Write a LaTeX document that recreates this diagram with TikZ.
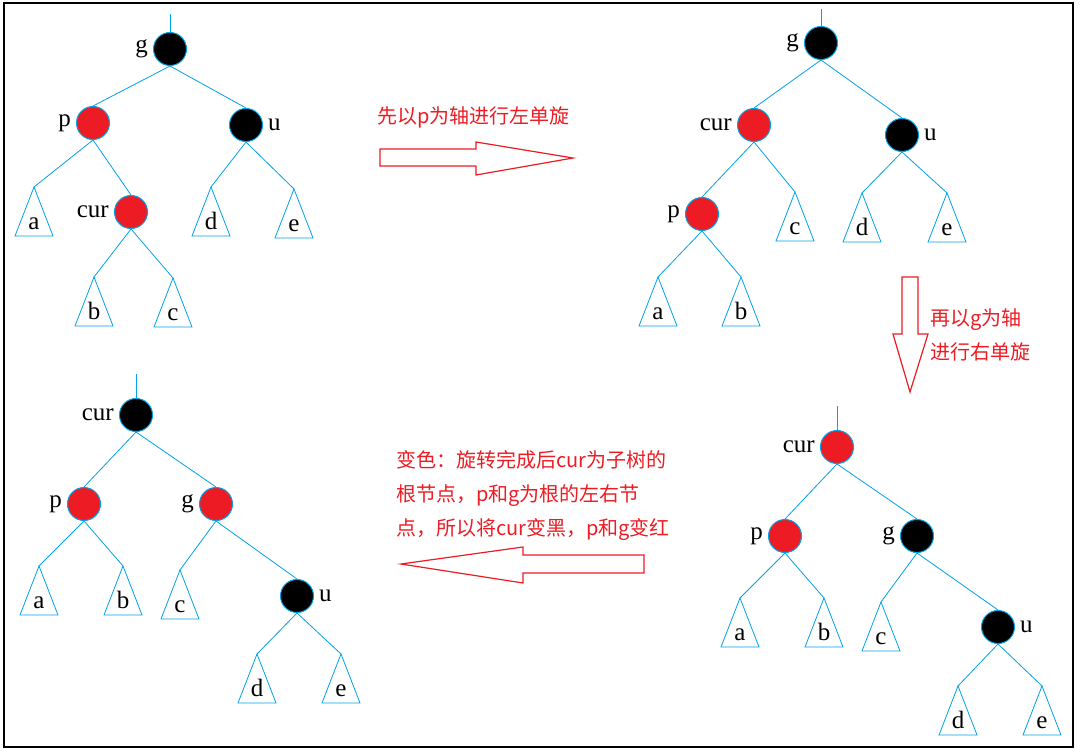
\documentclass[tikz,border=0pt]{standalone}
\usepackage{fontspec}
\usepackage{tikz}
\usetikzlibrary{calc}
\newfontfamily\cjk{Noto Sans CJK SC}
\newfontfamily\labfont{Liberation Serif}
\definecolor{cRed}{RGB}{237,28,36}
\definecolor{cBlue}{RGB}{0,162,232}
\tikzset{
	rbnode/.style ={circle, draw=cBlue, line width=1pt, minimum size=33pt, inner sep=0pt},
	rednode/.style={rbnode, fill=cRed},
	blknode/.style={rbnode, fill=black},
	edge/.style   ={cBlue, line width=0.8pt},
	nlab/.style   ={font=\labfont\fontsize{25}{28}\selectfont, inner sep=2pt},
	note/.style   ={text=cRed, font=\cjk\fontsize{20}{34}\selectfont, align=left, anchor=west, inner sep=0pt},
	bigarrow/.style={draw=cRed, line width=1.2pt, fill=white, line join=miter},
	every label/.style={nlab},
	label distance=3pt,
}
% subtree triangle: apex coordinate, outline, letter
\newcommand{\subtree}[3]{%
	\coordinate (#1) at (#2);
	\draw[edge] (#1) -- ++(-19,49) -- ++(38,0) -- cycle;
	\node[nlab, anchor=base] (#1txt) at ($(#1)+(0,42)$) {#3};
}

\begin{document}
\begin{tikzpicture}[x=1pt, y=-1pt]
	\fill[white] (0,0) rectangle (1080,752);
	\useasboundingbox (0,0) rectangle (1080,752);
	\draw[line width=1.2pt] (4,3) rectangle (1073,747);

	% tree A: before the rotations
	\node[blknode, label={left:g}]   (gA)   at (170,49)  {};
	\node[rednode, label={left:p}]   (pA)   at (93,123)  {};
	\node[blknode, label={right:u}]  (uA)   at (246,125) {};
	\node[rednode, label={left:cur}] (curA) at (131,212) {};
	% tree B: after the left rotation at p
	\node[blknode, label={left:g}]   (gB)   at (821,43)  {};
	\node[rednode, label={left:cur}] (curB) at (754,125) {};
	\node[blknode, label={right:u}]  (uB)   at (902,135) {};
	\node[rednode, label={left:p}]   (pB)   at (702,214) {};
	% tree C: after the right rotation at g
	\node[rednode, label={left:cur}] (curC) at (837,447) {};
	\node[rednode, label={left:p}]   (pC)   at (785,536) {};
	\node[blknode, label={left:g}]   (gC)   at (917,536) {};
	\node[blknode, label={right:u}]  (uC)   at (998,627) {};
	% tree D: recoloured
	\node[blknode, label={left:cur}] (curD) at (136,415) {};
	\node[rednode, label={left:p}]   (pD)   at (84,504)  {};
	\node[rednode, label={left:g}]   (gD)   at (216,504) {};
	\node[blknode, label={right:u}]  (uD)   at (297,596) {};

	\foreach \n/\x/\y/\t in {aA/34/187/a, dA/211/187/d, eA/294/189/e, bA/94/277/b, cA/173/278/c,
		cB/795/192/c, dB/862/193/d, eB/947/193/e, aB/658/277/a, bB/741/277/b,
		aC/740/598/a, bC/824/598/b, cC/881/602/c, dC/958/686/d, eC/1042/686/e,
		aD/39/566/a, bD/123/566/b, cD/180/570/c, dD/257/654/d, eD/341/654/e}
		\subtree{\n}{\x,\y}{\t};

	\foreach \a/\b in {gA/pA, gA/uA, pA/curA, gB/curB, gB/uB, curB/pB,
		curC/pC, curC/gC, gC/uC, curD/pD, curD/gD, gD/uD}
		\draw[edge] (\a.south) -- (\b.north);
	\foreach \a/\b in {pA/aA, curA/bA, curA/cA, uA/dA, uA/eA,
		curB/cB, pB/aB, pB/bB, uB/dB, uB/eB,
		pC/aC, pC/bC, gC/cC, uC/dC, uC/eC,
		pD/aD, pD/bD, gD/cD, uD/dD, uD/eD}
		\draw[edge] (\a.south) -- (\b);

	\draw[edge] (gA.north) -- ++(0,-18);
	\draw[edge] (gB.north) -- ++(0,-17);
	\draw[edge] (curC.north) -- ++(0,-24);
	\draw[edge] (curD.north) -- ++(0,-24);

	% hollow arrows
	\draw[bigarrow] (380,149) -- (476,149) -- (476,142) -- (573,158) -- (476,175) -- (476,166) -- (380,166) -- cycle;
	\draw[bigarrow] (902,277) -- (918,277) -- (918,334) -- (928,334) -- (910,392) -- (893,334) -- (902,334) -- cycle;
	\draw[bigarrow] (644,555) -- (523,555) -- (523,547) -- (401,564) -- (523,583) -- (523,573) -- (644,573) -- cycle;

	\node[note] (rotL)  at (377,117) {先以p为轴进行左单旋};
	\node[note] (rotR)  at (930,335) {再以g为轴\\进行右单旋};
	\node[note] (recol) at (396,496) {变色：旋转完成后cur为子树的\\根节点，p和g为根的左右节\\点，所以将cur变黑，p和g变红};
\end{tikzpicture}
\end{document}
